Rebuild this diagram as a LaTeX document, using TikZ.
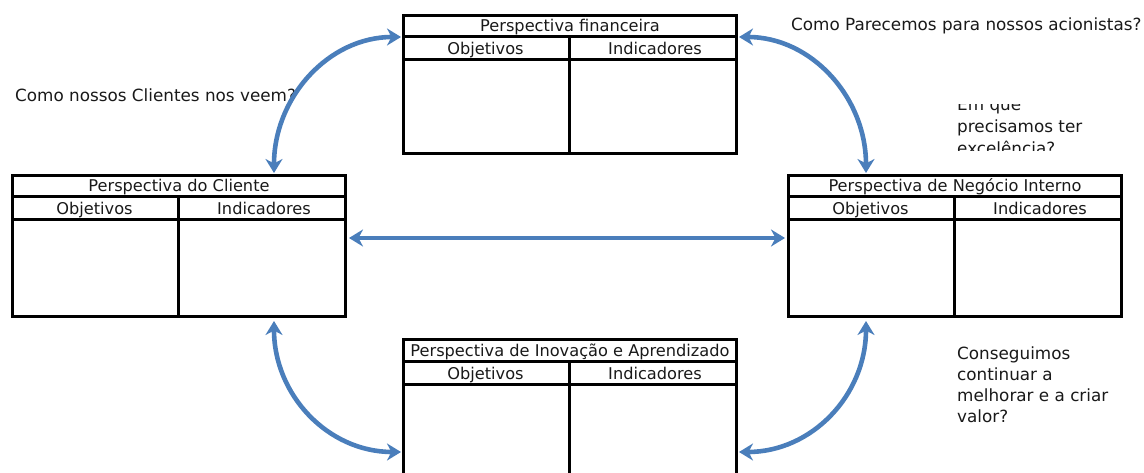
\documentclass[tikz,border=0pt]{standalone}
\usepackage{fontspec}
\setmainfont{DejaVu Sans}
\usetikzlibrary{arrows.meta,calc}
\definecolor{bscblue}{RGB}{74,126,187}
\tikzset{
  tabframe/.style={draw=black, line width=3pt, minimum width=333pt,
    minimum height=#1, inner sep=0pt, anchor=north west},
  tabline/.style={draw=black, line width=3pt},
  celltext/.style={font=\fontsize{16.2}{20}\selectfont, text=black!90,
    inner sep=0pt, anchor=base},
  note/.style={font=\fontsize{16.8}{21.5}\selectfont, align=left,
    inner sep=0pt, anchor=base west, text=black!90},
  bsctip/.tip={Stealth[length=14pt,width=17pt,inset=4.5pt]},
  link/.style={draw=bscblue, line width=4.6pt, bsctip-bsctip},
}
% one scorecard table: name, x, y, height, title
\newcommand\bsctab[5]{%
  \node[tabframe=#4] (#1) at (#2,#3) {};
  \draw[tabline] ([yshift=-23pt]#1.north west) -- ([yshift=-23pt]#1.north east);
  \draw[tabline] ([yshift=-46pt]#1.north west) -- ([yshift=-46pt]#1.north east);
  \draw[tabline] ([xshift=167pt,yshift=-23pt]#1.north west) -- ([xshift=167pt]#1.south west);
  \node[celltext] (#1-title) at ([yshift=-18pt]#1.north) {#5};
  \node[celltext] (#1-obj) at ([xshift=83.5pt,yshift=-41pt]#1.north west) {Objetivos};
  \node[celltext] (#1-ind) at ([xshift=-83pt,yshift=-41pt]#1.north east) {Indicadores};
}
\begin{document}
\begin{tikzpicture}[x=1pt,y=-1pt]
\clip (0,0) rectangle (1144,473);

% question texts
\node[note] (qacion) at (791,31) {Como Parecemos para nossos acionistas?};
\node[note] (qcli) at (15,102) {Como nossos Clientes nos veem?};
\begin{scope}
  \clip (940,105) rectangle (1144,151);
  \node[note, anchor=north west, font=\fontsize{16.8}{22}\selectfont] (qint) at (957,98)
    {Em que\\precisamos ter\\excelência?};
\end{scope}
\node[note, anchor=north west, font=\fontsize{16.8}{21}\selectfont] (qino) at (957,347)
  {Conseguimos\\continuar a\\melhorar e a criar\\valor?};

% the four perspectives
\bsctab{fin}{402}{14}{138pt}{Perspectiva financeira}
\bsctab{cli}{11}{174}{141pt}{Perspectiva do Cliente}
\bsctab{neg}{787}{174}{141pt}{Perspectiva de Negócio Interno}
\bsctab{ino}{402}{338}{150pt}{Perspectiva de Inovação e Aprendizado}

% links between perspectives
\draw[link] ([xshift=-73pt,yshift=1pt]cli.north east)
  .. controls +(0,-75) and +(-73,0) .. ([xshift=-1pt,yshift=-23pt]fin.north west);
\draw[link] ([xshift=1pt,yshift=-23pt]fin.north east)
  .. controls +(73,0) and +(0,-75) .. ([xshift=79pt,yshift=1pt]neg.north west);
\draw[link] ([xshift=2pt,yshift=8pt]cli.east) -- ([xshift=-2pt,yshift=8pt]neg.west);
\draw[link] ([xshift=-73pt,yshift=-3pt]cli.south east)
  .. controls +(0,74) and +(-73,0) .. ([xshift=-1pt,yshift=-114pt]ino.north west);
\draw[link] ([xshift=79pt,yshift=-3pt]neg.south west)
  .. controls +(0,74) and +(73,0) .. ([xshift=1pt,yshift=-114pt]ino.north east);
\end{tikzpicture}
\end{document}
